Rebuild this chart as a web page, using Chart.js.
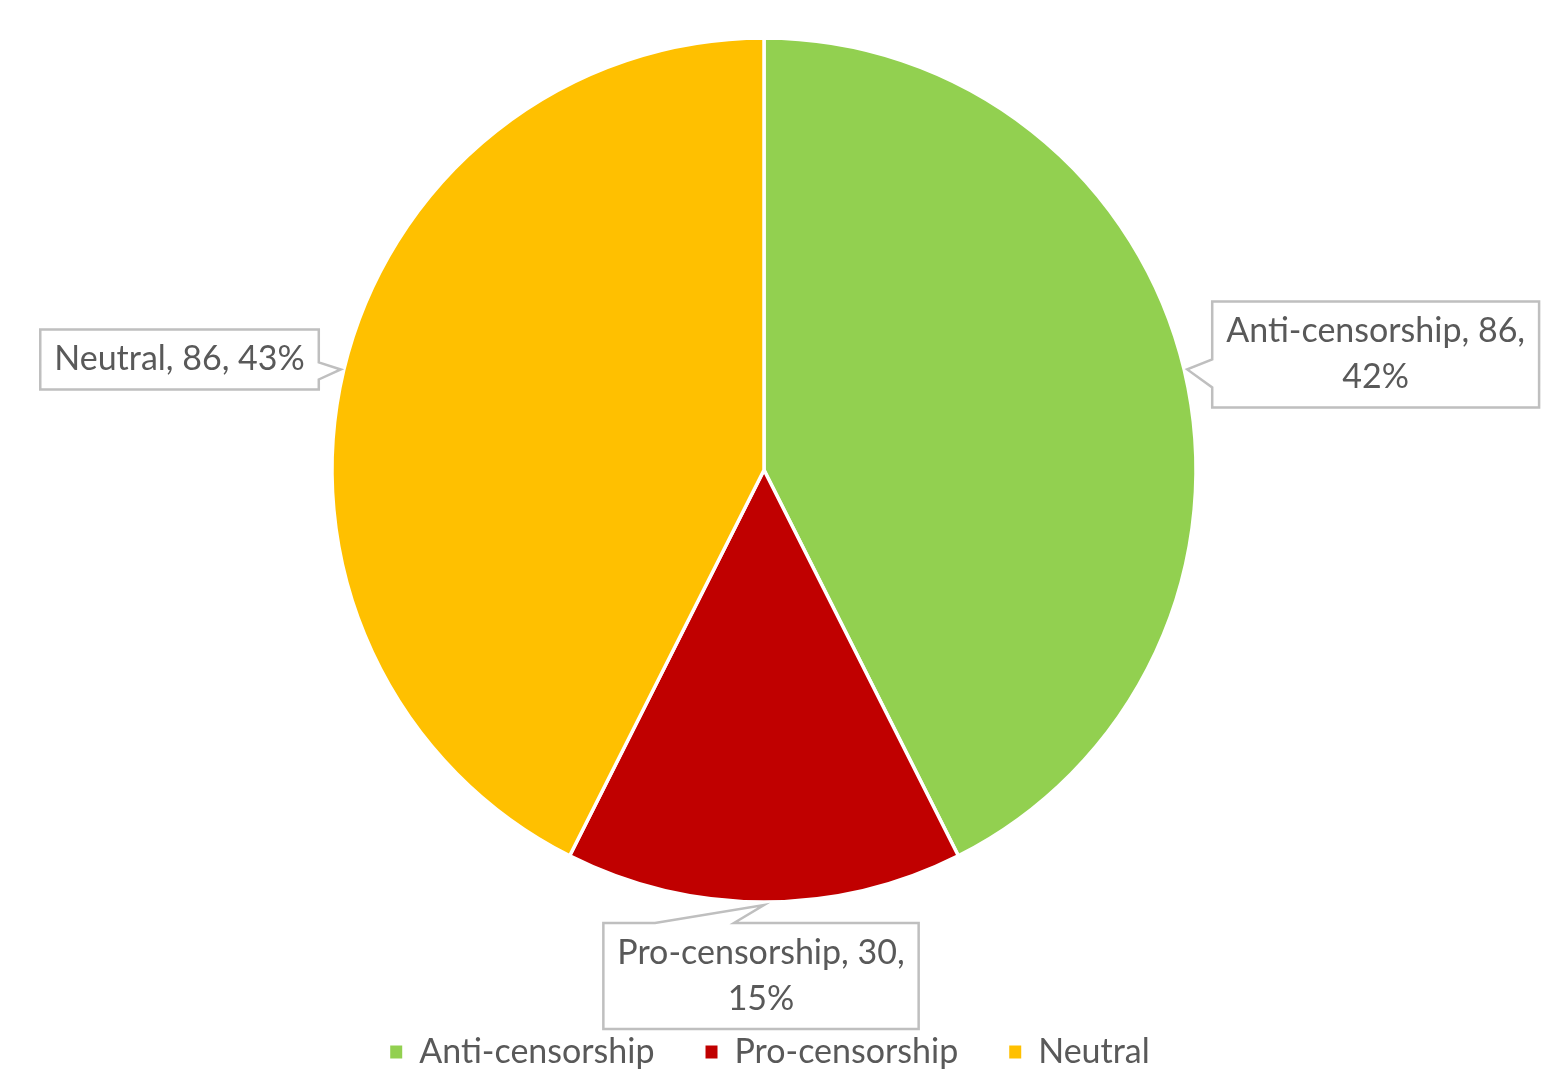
<!DOCTYPE html>
<html>
<head>
<meta charset="utf-8">
<script src="https://cdn.jsdelivr.net/npm/chart.js@4.4.0/dist/chart.umd.min.js"></script>
<style>
html, body { margin: 0; padding: 0; background: #fff; }
#wrap { width: 1551px; height: 1082px; position: relative; }
</style>
</head>
<body>
<div id="wrap"><canvas id="pieChart"></canvas></div>
<script>
// chart data
const categories = ["Anti-censorship", "Pro-censorship", "Neutral"];
const counts = [86, 30, 86];
const percentLabels = [42, 15, 43];
const sliceColors = ["#92D050", "#C00000", "#FFC000"];

const FONT_FAMILY = "Lato";
const FONT_SIZE = 34;
const TEXT_COLOR = "#595959";

// where each callout box sits relative to the tip on its slice
const calloutLayout = [
    { side: "left", gap: 25, shift: -15, baseA: -10, baseB: 18 },
    { side: "top", gap: 18, shift: -3, baseA: -109, baseB: -30 },
    { side: "right", gap: 22, shift: -10, baseA: -7, baseB: 10 }
];

function wrapText(ctx, text, maxWidth) {
    const words = text.split(" ");
    const lines = [];
    let line = "";
    words.forEach(w => {
        const test = line ? line + " " + w : w;
        if (ctx.measureText(test).width > maxWidth && line) {
            lines.push(line);
            line = w;
        } else {
            line = test;
        }
    });
    if (line) lines.push(line);
    return lines;
}

// Excel style data callouts
const calloutPlugin = {
    id: "callouts",
    afterLayout(chart) {
        // Excel legend sits a bit right of the pie centre
        chart.legend.left += 6;
        chart.legend.right += 6;
    },
    afterDatasetsDraw(chart) {
        const ctx = chart.ctx;
        const meta = chart.getDatasetMeta(0);
        const lineH = 46;
        ctx.save();
        ctx.font = FONT_SIZE + "px '" + FONT_FAMILY + "'";
        meta.data.forEach((arc, i) => {
            const mid = (arc.startAngle + arc.endAngle) / 2;
            const tipX = arc.x + Math.cos(mid) * (arc.outerRadius + 3);
            const tipY = arc.y + Math.sin(mid) * (arc.outerRadius + 3);
            const text = categories[i] + ", " + counts[i] + ", " + percentLabels[i] + "%";
            const lines = wrapText(ctx, text, 310);
            const textW = Math.max(...lines.map(l => ctx.measureText(l).width));
            const w = textW + 28;
            const h = lines.length * lineH + 14;
            const lay = calloutLayout[i];
            let x0, y0;
            if (lay.side === "left") {
                x0 = tipX + lay.gap;
                y0 = tipY + lay.shift - h / 2;
            } else if (lay.side === "right") {
                x0 = tipX - lay.gap - w;
                y0 = tipY + lay.shift - h / 2;
            } else {
                x0 = tipX + lay.shift - w / 2;
                y0 = tipY + lay.gap;
            }
            const x1 = x0 + w, y1 = y0 + h;

            ctx.beginPath();
            if (lay.side === "left") {
                ctx.moveTo(x0, y0);
                ctx.lineTo(x1, y0);
                ctx.lineTo(x1, y1);
                ctx.lineTo(x0, y1);
                ctx.lineTo(x0, tipY + lay.baseB);
                ctx.lineTo(tipX, tipY);
                ctx.lineTo(x0, tipY + lay.baseA);
            } else if (lay.side === "right") {
                ctx.moveTo(x1, y1);
                ctx.lineTo(x0, y1);
                ctx.lineTo(x0, y0);
                ctx.lineTo(x1, y0);
                ctx.lineTo(x1, tipY + lay.baseA);
                ctx.lineTo(tipX, tipY);
                ctx.lineTo(x1, tipY + lay.baseB);
            } else {
                ctx.moveTo(x0, y0);
                ctx.lineTo(tipX + lay.baseA, y0);
                ctx.lineTo(tipX, tipY);
                ctx.lineTo(tipX + lay.baseB, y0);
                ctx.lineTo(x1, y0);
                ctx.lineTo(x1, y1);
                ctx.lineTo(x0, y1);
            }
            ctx.closePath();
            ctx.fillStyle = "#ffffff";
            ctx.fill();
            ctx.lineWidth = 2.5;
            ctx.strokeStyle = "#BFBFBF";
            ctx.stroke();

            ctx.fillStyle = TEXT_COLOR;
            ctx.textAlign = "center";
            ctx.textBaseline = "middle";
            const cx = (x0 + x1) / 2;
            const top = y0 + (h - lines.length * lineH) / 2;
            lines.forEach((l, k) => ctx.fillText(l, cx, top + lineH * (k + 0.5)));
        });
        ctx.restore();
    }
};

new Chart(document.getElementById("pieChart"), {
    type: "pie",
    data: {
        labels: categories,
        datasets: [{
            data: counts,
            backgroundColor: sliceColors,
            borderColor: "#ffffff",
            borderWidth: 3.5,
            radius: 432
        }]
    },
    options: {
        responsive: true,
        maintainAspectRatio: false,
        animation: false,
        events: [],
        layout: {
            padding: { top: 2, bottom: 3, left: 0, right: 23 }
        },
        plugins: {
            tooltip: { enabled: false },
            legend: {
                position: "bottom",
                // blank title only used as a spacer above the legend row
                title: {
                    display: true,
                    text: "",
                    font: { size: 10 },
                    padding: { top: 17, bottom: 17 }
                },
                labels: {
                    boxWidth: 12,
                    boxHeight: 13,
                    padding: 51,
                    color: TEXT_COLOR,
                    font: { family: FONT_FAMILY, size: FONT_SIZE },
                    generateLabels(chart) {
                        // pie legend items, without the white slice border on the marker
                        const items = Chart.overrides.doughnut.plugins.legend.labels.generateLabels(chart);
                        items.forEach(it => { it.lineWidth = 0; });
                        return items;
                    }
                }
            }
        }
    },
    plugins: [calloutPlugin]
});
</script>
</body>
</html>
